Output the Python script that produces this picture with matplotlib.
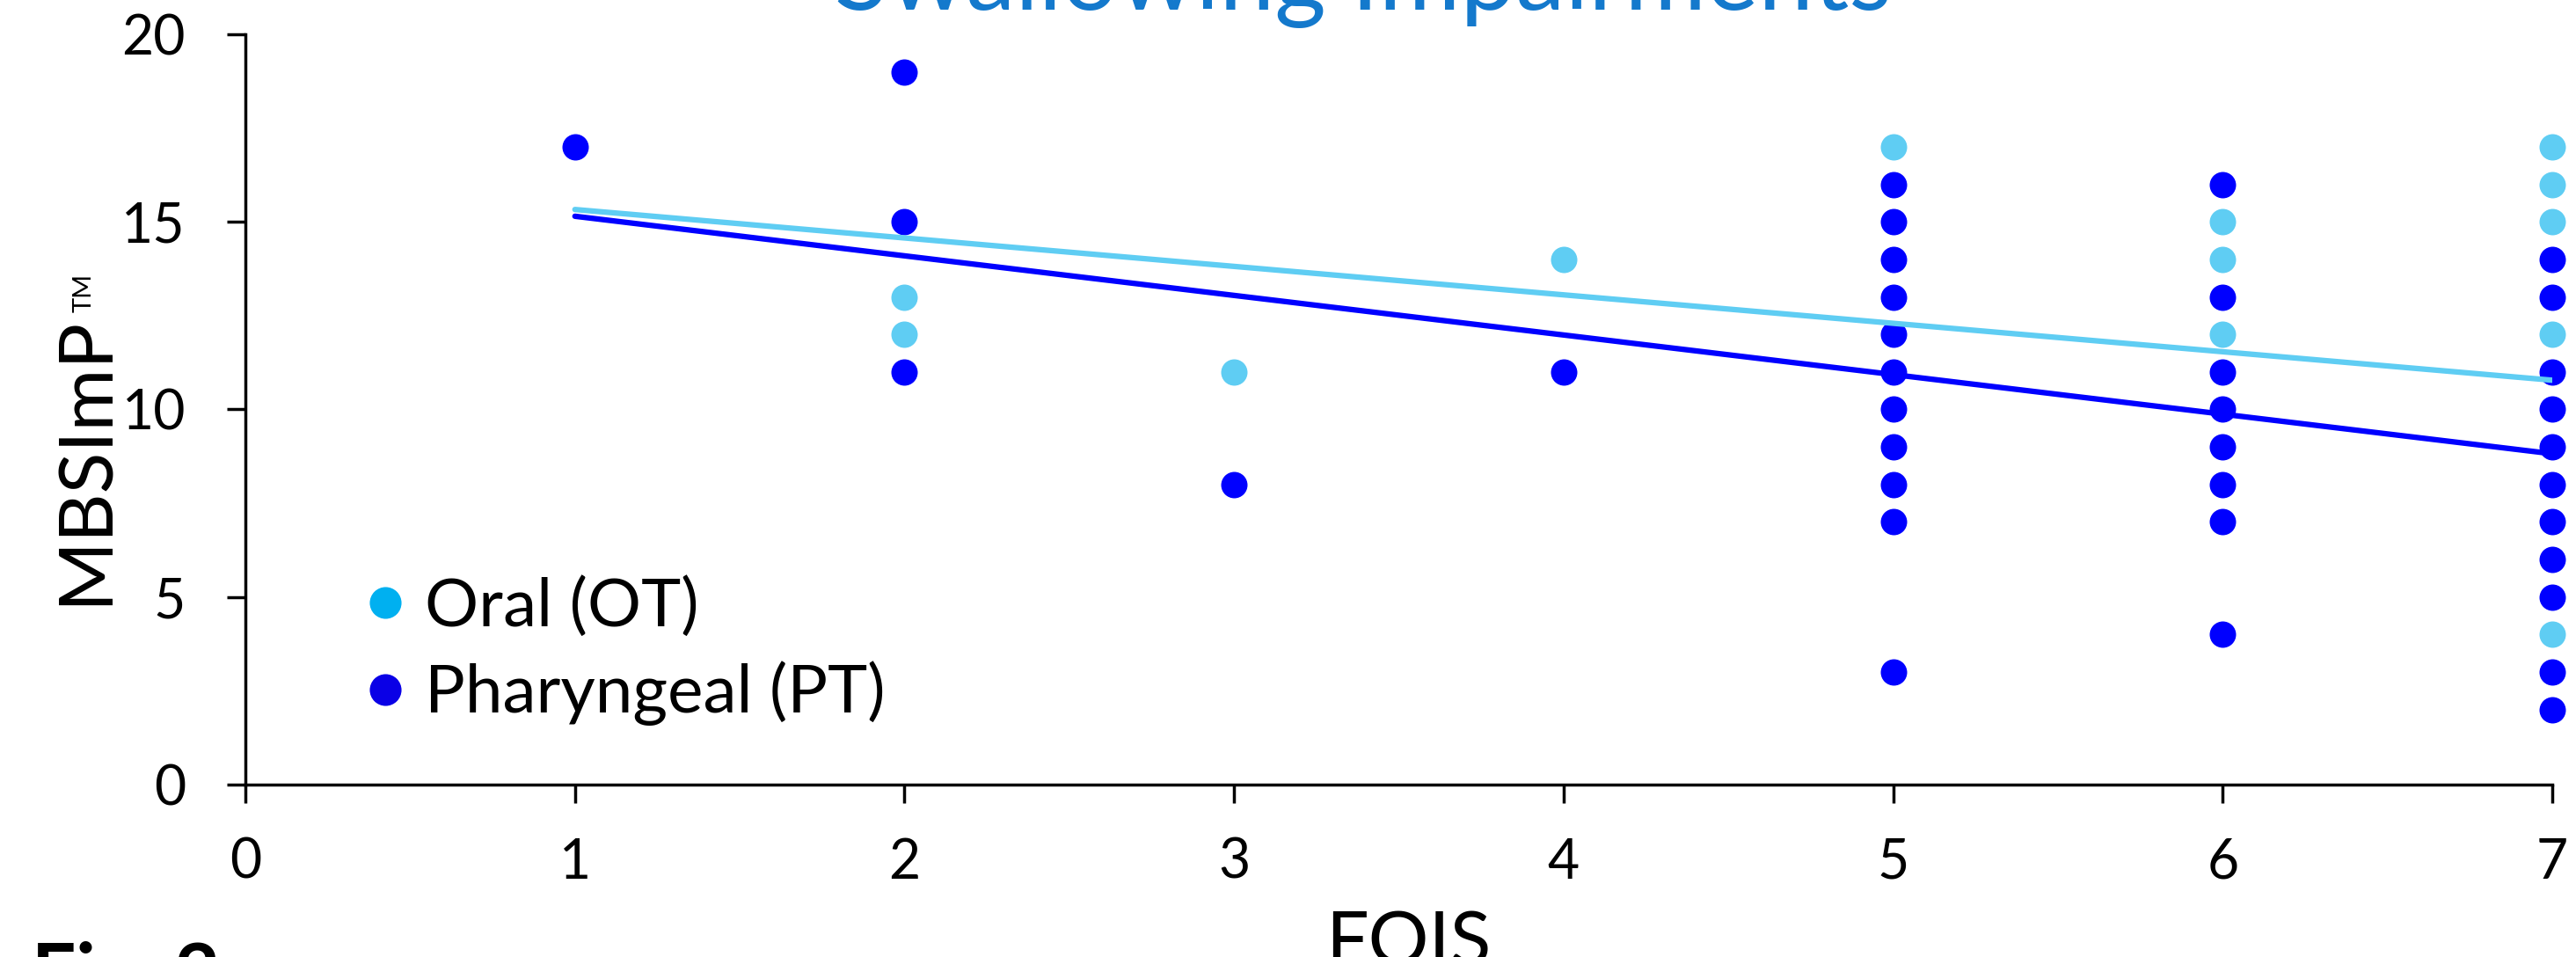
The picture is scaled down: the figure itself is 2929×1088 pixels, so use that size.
import matplotlib.pyplot as plt
from matplotlib.lines import Line2D

plt.rcParams['font.family'] = ['Lato', 'DejaVu Sans']

# FOIS level vs MBSImP score (visible dots only)
ot_fois = [2, 2, 3, 4, 5, 6, 6, 6, 7, 7, 7, 7, 7]
ot_score = [13, 12, 11, 14, 17, 15, 14, 12, 17, 16, 15, 12, 4]

pt_fois = [1, 2, 2, 2, 3, 4,
           5, 5, 5, 5, 5, 5, 5, 5, 5, 5, 5,
           6, 6, 6, 6, 6, 6, 6, 6,
           7, 7, 7, 7, 7, 7, 7, 7, 7, 7, 7]
pt_score = [17, 19, 15, 11, 8, 11,
            16, 15, 14, 13, 12, 11, 10, 9, 8, 7, 3,
            16, 13, 11, 10, 9, 8, 7, 4,
            14, 13, 11, 10, 9, 8, 7, 6, 5, 3, 2]

# linear trend lines (end points)
trend_fois = [1, 7]
ot_trend = [15.33, 10.78]
pt_trend = [15.15, 8.82]

x_ticks = [0, 1, 2, 3, 4, 5, 6, 7]
y_ticks = [0, 5, 10, 15, 20]

ot_color = '#5FCDF3'
pt_color = '#0000FF'

W, H = 2929, 1088
fig = plt.figure(figsize=(W / 100, H / 100), dpi=100)
ax = fig.add_axes([279 / W, 1 - 892 / H, (2902 - 279) / W, (892 - 39) / H])

ax.scatter(ot_fois, ot_score, s=466, color=ot_color, linewidths=0, clip_on=False, zorder=3)
ax.scatter(pt_fois, pt_score, s=466, color=pt_color, linewidths=0, clip_on=False, zorder=3)
ax.plot(trend_fois, ot_trend, color=ot_color, lw=4.5, solid_capstyle='round', zorder=4)
ax.plot(trend_fois, pt_trend, color=pt_color, lw=4.5, solid_capstyle='round', zorder=4)

ax.set_xlim(0, 7)
ax.set_ylim(0, 20)
ax.set_xticks(x_ticks)
ax.set_yticks(y_ticks)
for s in ['top', 'right']:
    ax.spines[s].set_visible(False)
for s in ['left', 'bottom']:
    ax.spines[s].set_linewidth(2.5)
ax.tick_params(axis='both', length=15, width=2.5, labelsize=45)
ax.tick_params(axis='y', pad=34)
ax.tick_params(axis='x', pad=28)

handles = [Line2D([], [], ls='', marker='o', markersize=26, color='#00B0F0', markeredgewidth=0),
           Line2D([], [], ls='', marker='o', markersize=26, color='#0A00E6', markeredgewidth=0)]
ax.legend(handles, ['Oral (OT)', 'Pharyngeal (PT)'], loc='center left',
          bbox_to_anchor=(0.0517, 0.178), frameon=False, fontsize=55,
          handlelength=0.6, handletextpad=0.29, labelspacing=0.35,
          borderpad=0, borderaxespad=0)

# y label with small TM mark
ylab = fig.text(122 / W, 1 - 688 / H, 'MBSImP', rotation=90, rotation_mode='anchor',
                ha='left', va='baseline', fontsize=62)
fig.canvas.draw()
bb = ylab.get_window_extent()
fig.text(104 / W, (bb.y1 + 4) / H, 'TM', rotation=90, rotation_mode='anchor',
         ha='left', va='baseline', fontsize=21)

fig.text(1601 / W, 1 - 1098 / H, 'FOIS', ha='center', va='baseline', fontsize=62)
fig.text(1550 / W, 1 - 11 / H, 'Swallowing Impairments', ha='center', va='baseline',
         fontsize=81, color='#1479CC')
fig.text(36 / W, 1 - 1136 / H, 'Fig. 2', ha='left', va='baseline', fontsize=64,
         fontweight='bold')

fig.savefig('out.png', dpi=100)
